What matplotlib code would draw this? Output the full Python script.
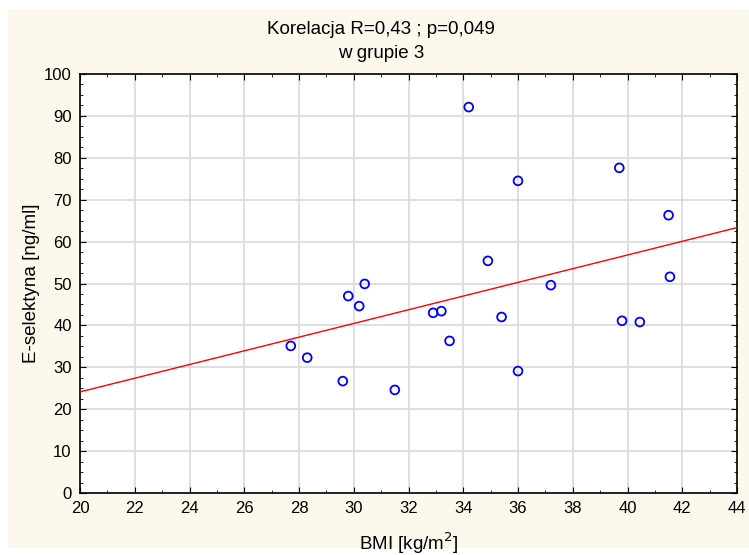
import numpy as np
import matplotlib.pyplot as plt
from matplotlib.patches import Rectangle
from matplotlib.ticker import MultipleLocator

plt.rcParams["font.family"] = ["Liberation Sans", "DejaVu Sans"]

# BMI [kg/m2] i stężenie E-selektyny [ng/ml] w grupie 3
bmi = [27.7, 28.3, 29.6, 29.8, 30.2, 30.4, 31.5, 32.9, 33.2, 33.5, 34.2,
       34.9, 35.4, 36.0, 36.0, 37.2, 39.7, 39.8, 40.45, 41.5, 41.55]
esel = [35.1, 32.3, 26.7, 47.0, 44.6, 49.9, 24.6, 43.0, 43.4, 36.3, 92.1,
        55.4, 42.0, 74.5, 29.1, 49.6, 77.6, 41.1, 40.8, 66.3, 51.6]

W, H = 749, 555
fig = plt.figure(figsize=(W / 100, H / 100), dpi=100, facecolor="white")
fig.patches.append(Rectangle((8 / W, 7 / H), 1 - 8 / W, 1 - 16 / H,
                             transform=fig.transFigure, facecolor="#fdf8ec",
                             edgecolor="none", zorder=-10))

ax = fig.add_axes([80 / W, 1 - 493 / H, (737 - 80) / W, (493 - 74) / H])
ax.set_facecolor("white")

# linia regresji liniowej
a, b = np.polyfit(bmi, esel, 1)
xs = np.array([20, 44])
ax.plot(xs, a * xs + b, color="red", lw=1, zorder=3)
ax.scatter(bmi, esel, s=40, facecolors="none", edgecolors="blue",
           linewidths=1.3, zorder=4)

ax.set_xlim(20, 44)
ax.set_ylim(0, 100)
ax.xaxis.set_major_locator(MultipleLocator(2))
ax.xaxis.set_minor_locator(MultipleLocator(1))
ax.yaxis.set_major_locator(MultipleLocator(10))
ax.yaxis.set_minor_locator(MultipleLocator(2.5))
ax.tick_params(which="both", direction="in", top=True, right=True,
               labelsize=12, color="black")
ax.tick_params(which="major", length=4, pad=6)
ax.tick_params(which="minor", length=2.5)
ax.grid(True, which="major", color="#dcdcdc", lw=1.3, zorder=0)
ax.set_axisbelow(True)
for s in ax.spines.values():
    s.set_linewidth(1.2)

ax.set_xlabel("BMI [kg/m$^2$]", fontsize=13.5, labelpad=10)
ax.set_ylabel("E-selektyna [ng/ml]", fontsize=13.5, labelpad=3)
fig.text(381 / W, 1 - 30 / H, "Korelacja R=0,43 ; p=0,049", ha="center",
         va="center", fontsize=13.5)
fig.text(381 / W, 1 - 53 / H, "w grupie 3", ha="center", va="center",
         fontsize=13.5)

fig.savefig("out.png", dpi=100, facecolor="white")
